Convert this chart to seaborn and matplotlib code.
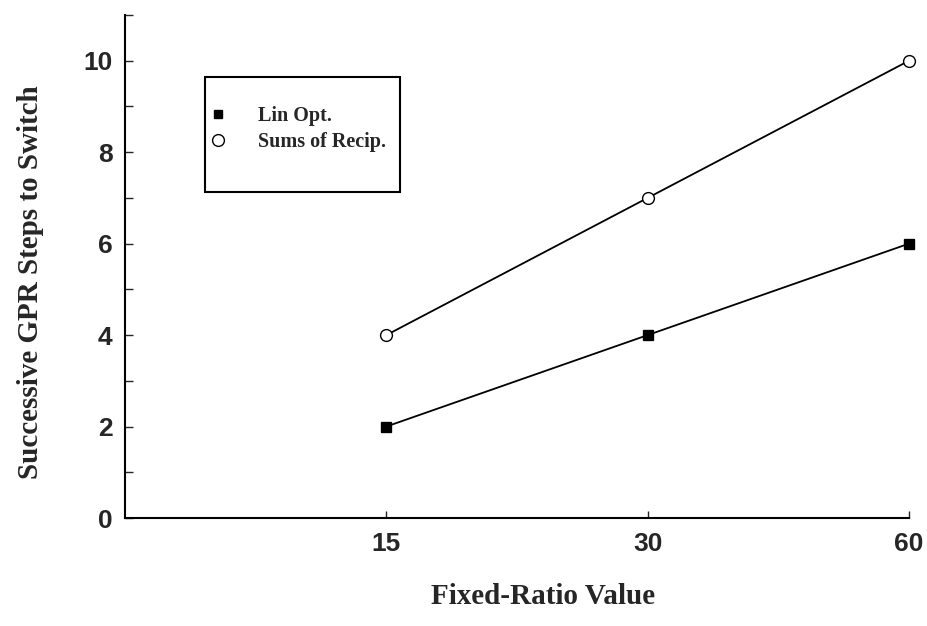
import pandas as pd
import matplotlib
matplotlib.use("Agg")
import matplotlib.pyplot as plt
from matplotlib.lines import Line2D
from matplotlib.patches import Rectangle
from matplotlib.ticker import MultipleLocator
import seaborn as sns

# === DATA ===
ratios = ["15", "30", "60"]
lin_opt = [2, 4, 6]
sums_recip = [4, 7, 10]
series_names = ["Lin Opt.", "Sums of Recip."]

df_lin = pd.DataFrame({"ratio": ratios, "steps": lin_opt})
df_rec = pd.DataFrame({"ratio": ratios, "steps": sums_recip})

sns.set_style("ticks")
plt.rcParams["font.family"] = ["Liberation Serif", "DejaVu Serif"]

fig = plt.figure(figsize=(9.28, 6.26), dpi=100)
ax = fig.add_axes([125 / 928, 1 - 518 / 626, 784 / 928, 503 / 626])

sns.pointplot(data=df_lin, x="ratio", y="steps", order=ratios, color="black",
              marker="s", markersize=6.5, linewidth=1.3, errorbar=None, ax=ax)
sns.pointplot(data=df_rec, x="ratio", y="steps", order=ratios, color="black",
              marker="o", markersize=8.5, linewidth=1.3, errorbar=None,
              markerfacecolor="white", markeredgewidth=1.0, ax=ax)
# let the end markers hang over the axes edge like the original
for ln in ax.lines:
    ln.set_clip_on(False)

ax.set_xlim(-1, 2)
ax.set_ylim(0, 11)
ax.yaxis.set_major_locator(MultipleLocator(2))
ax.yaxis.set_minor_locator(MultipleLocator(1))

for side in ["top", "right"]:
    ax.spines[side].set_visible(False)
for side in ["left", "bottom"]:
    ax.spines[side].set_linewidth(1.5)
    ax.spines[side].set_color("black")

ax.tick_params(axis="y", which="major", direction="in", length=6, width=1, pad=9)
ax.tick_params(axis="y", which="minor", direction="in", length=6, width=1)
ax.tick_params(axis="x", direction="in", length=5, width=1, pad=10)

for lab in ax.get_xticklabels() + ax.get_yticklabels():
    lab.set_family(["Liberation Sans", "DejaVu Sans"])
    lab.set_fontweight("bold")
    lab.set_fontsize(19)

ax.set_xlabel("Fixed-Ratio Value", fontsize=21, fontweight="bold", va="center")
ax.xaxis.set_label_coords((543 - 125) / 784, (518 - 596) / 503)
ax.set_ylabel("Successive GPR Steps to Switch", fontsize=21, fontweight="bold",
              va="center")
ax.yaxis.set_label_coords((30 - 125) / 784, (518 - 282) / 503)

# legend box
box = Rectangle(((205 - 125) / 784, (518 - 192) / 503), 195 / 784, 115 / 503,
                transform=ax.transAxes, fill=False, edgecolor="black",
                linewidth=1.5, zorder=5)
ax.add_patch(box)
handles = [
    Line2D([], [], linestyle="none", marker="s", markersize=6, color="black"),
    Line2D([], [], linestyle="none", marker="o", markersize=8.5,
           markerfacecolor="white", markeredgecolor="black"),
]
ax.legend(handles, series_names, loc="upper left",
          bbox_to_anchor=((208 - 125) / 784, (518 - 106) / 503),
          frameon=False, prop={"size": 14.5, "weight": "bold"},
          handlelength=1.0, handletextpad=1.5, labelspacing=0.3,
          borderaxespad=0, borderpad=0)

fig.savefig("out.png", dpi=100)
